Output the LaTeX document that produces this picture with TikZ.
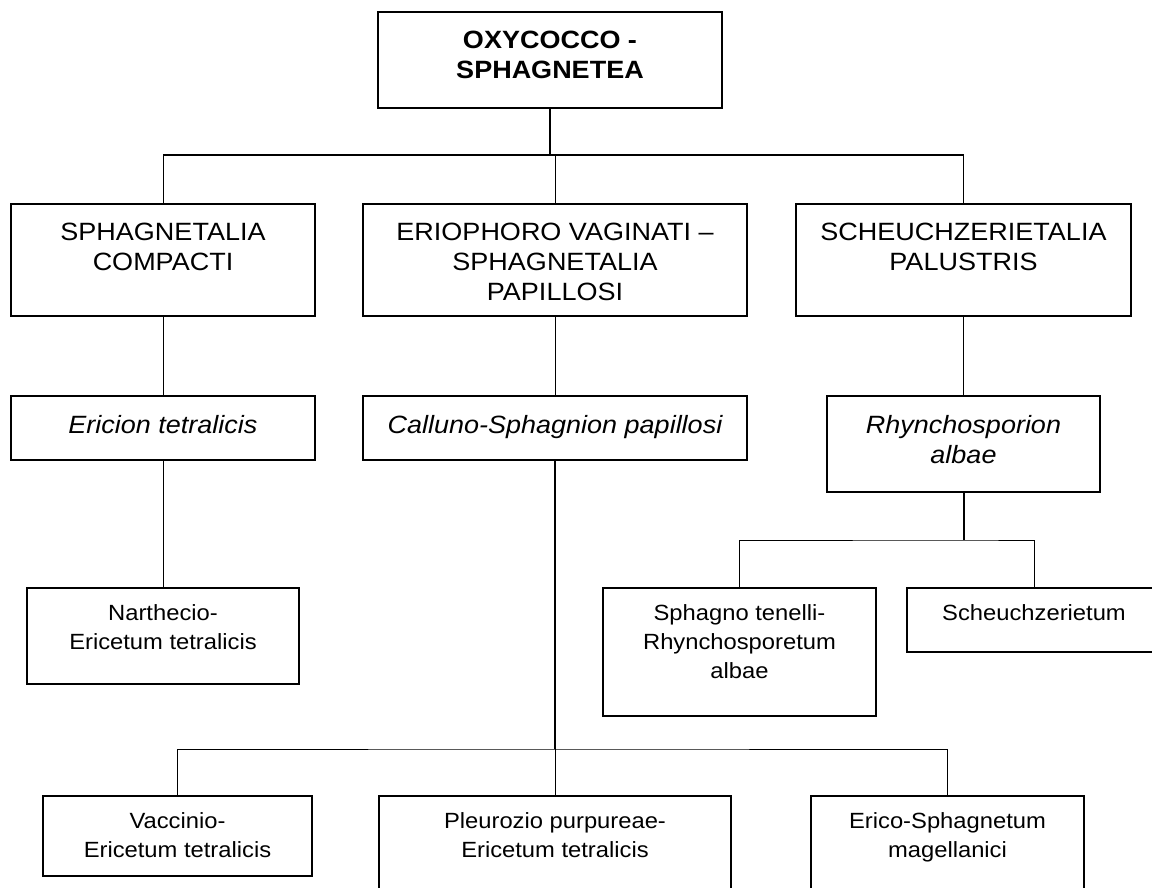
\documentclass[tikz,border=0pt]{standalone}
\usepackage{fontspec}
\setmainfont[FakeStretch=1.08]{Liberation Sans}
\usetikzlibrary{calc}
\usetikzlibrary{positioning}

\tikzset{
  box/.style 2 args={draw,line width=1.4pt,minimum width=#1,minimum height=#2,inner sep=0pt},
  txt/.style={anchor=north,align=center,yshift=-19.5pt,inner sep=0pt,font=\fontsize{25}{30}\selectfont},
  txtb/.style={txt,font=\fontsize{25}{30}\selectfont\bfseries},
  txti/.style={txt,font=\fontsize{25}{30}\selectfont\itshape},
  txts/.style={txt,yshift=2pt,font=\fontsize{22}{29}\selectfont},
  link/.style={line width=1pt},
  buslink/.style={line width=1.4pt},
  thicklink/.style={line width=2pt},
}

\begin{document}
\begin{tikzpicture}[x=1pt,y=-1pt]

  \useasboundingbox (0,0) rectangle (1152,888);
  \clip (0,0) rectangle (1152,888);

  \node[box={344}{96},label={[txtb]north:{OXYCOCCO -\\SPHAGNETEA}}] (oxy) at (550,60) {};

  \node[box={304}{112},label={[txt]north:{SPHAGNETALIA\\COMPACTI}}] (sphcomp) at (163,260) {};
  \node[box={384}{112},label={[txt]north:{ERIOPHORO VAGINATI –\\SPHAGNETALIA\\PAPILLOSI}}] (eriovag) at (555,260) {};
  \node[box={335}{112},label={[txt]north:{SCHEUCHZERIETALIA\\PALUSTRIS}}] (scheupal) at (963.5,260) {};

  \node[box={304}{64},label={[txti]north:{Ericion tetralicis}}] (ericion) at (163,428) {};
  \node[box={384}{64},label={[txti]north:{Calluno-Sphagnion papillosi}}] (calluno) at (555,428) {};
  \node[box={273}{96},label={[txti]north:{Rhynchosporion\\albae}}] (rhyalb) at (963.5,444) {};

  \node[box={272}{96},label={[txts]north:{Narthecio-\\Ericetum tetralicis}}] (narth) at (163,636) {};
  \node[box={273}{128},label={[txts]north:{Sphagno tenelli-\\Rhynchosporetum\\albae}}] (sphten) at (739.5,652) {};
  \node[box={254}{64},label={[txts]north:{Scheuchzerietum}}] (scheu) at (1034,620) {};

  \node[box={269}{80},label={[txts]north:{Vaccinio-\\Ericetum tetralicis}}] (vacc) at (177.5,836) {};
  \node[box={352}{112},label={[txts]north:{Pleurozio purpureae-\\Ericetum tetralicis}}] (pleur) at (555,852) {};
  \node[box={273}{112},label={[txts]north:{Erico-Sphagnetum\\magellanici}}] (erico) at (947.5,852) {};

  \coordinate (busA) at (550,155);
  \coordinate (busB) at (963.5,540);
  \coordinate (busC) at (555,749);

  \draw[thicklink] (oxy.south) -- (oxy.south |- busA);
  \draw[link] (sphcomp.north) -- (sphcomp.north |- busA);
  \draw[link] (scheupal.north) -- (scheupal.north |- busA);
  \draw[buslink] (sphcomp.north |- busA) -- (scheupal.north |- busA);
  \draw[link] (eriovag.north) -- (eriovag.north |- busA);

  \draw[link] (sphcomp) -- (ericion);
  \draw[link] (eriovag) -- (calluno);
  \draw[link] (scheupal) -- (rhyalb);
  \draw[link] (ericion) -- (narth);

  \draw[thicklink] (rhyalb.south) -- (busB);
  \draw[link] (sphten.north) |- (busB) -| (scheu.north);

  \draw[thicklink] (calluno.south) -- (busC);
  \draw[link] (vacc.north) |- (busC) -| (erico.north);
  \draw[link] (pleur.north) -- (busC);

\end{tikzpicture}
\end{document}
